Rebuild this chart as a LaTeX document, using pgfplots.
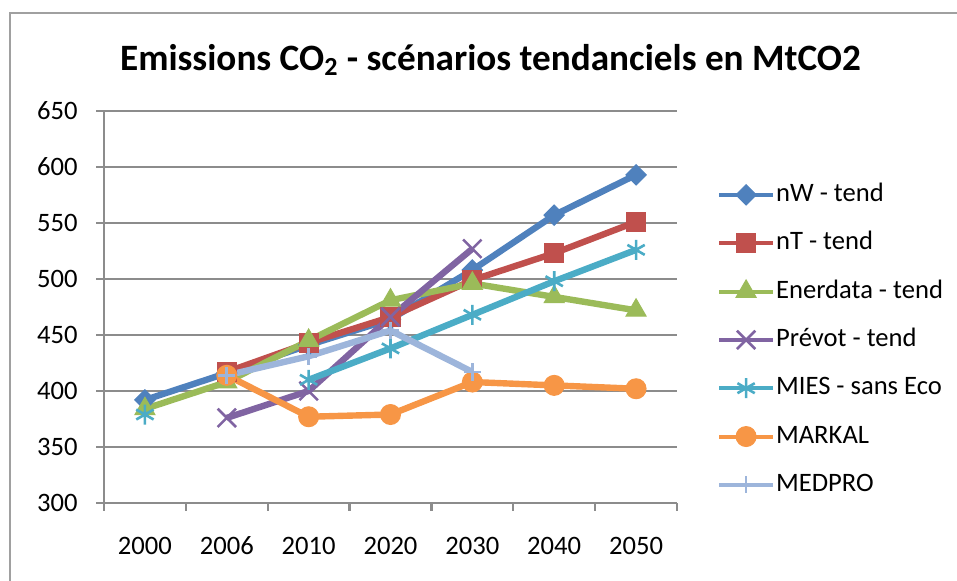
\documentclass[border=0pt]{standalone}
\usepackage{fontspec}
\setmainfont{Carlito}
\usepackage{pgfplots}
\pgfplotsset{compat=1.18}
\definecolor{c1}{HTML}{4F81BD}
\definecolor{c2}{HTML}{C0504D}
\definecolor{c3}{HTML}{9BBB59}
\definecolor{c4}{HTML}{8064A2}
\definecolor{c5}{HTML}{4BACC6}
\definecolor{c6}{HTML}{F79646}
\definecolor{c7}{HTML}{9DB5DB}
\definecolor{gridgray}{HTML}{8C8C8C}
\definecolor{bordergray}{HTML}{A0A0A0}
\begin{document}
\fontsize{13.3}{16}\selectfont
\begin{tikzpicture}
\useasboundingbox (0,0) rectangle (478.5pt,290.5pt);
\draw[line width=1pt, color=bordergray] (4.75pt,-2pt) -- (4.75pt,284pt) -- (482pt,284pt);
\node[anchor=base, inner sep=0pt, font=\fontsize{18.6}{22}\selectfont\bfseries] at (245.25pt,255.15pt) {Emissions CO\textsubscript{2} - scénarios tendanciels en MtCO2};
\begin{axis}[
  at={(52pt,39pt)}, anchor=south west,
  scale only axis, width=286.5pt, height=196pt,
  xmin=-0.5, xmax=6.5, ymin=300, ymax=650,
  axis x line=bottom, axis y line=left,
  axis line style={-, line width=1.1pt, color=gridgray},
  xtick={0,...,6},
  xticklabels={2000,2006,2010,2020,2030,2040,2050},
  minor xtick={-0.5,0.5,...,6.5},
  every major x tick/.append style={draw=none},
  ytick={300,350,...,650},
  ymajorgrids,
  major grid style={line width=1.1pt, color=gridgray},
  tick align=outside, major tick length=4pt, minor tick length=4pt,
  every tick/.append style={line width=1.1pt, color=gridgray},
  ticklabel style={font=\fontsize{13.3}{16}\selectfont, inner sep=0pt},
  /pgf/number format/assume math mode=true,
  xticklabel style={anchor=north, yshift=-13pt, text height=8.6pt, text depth=0pt},
  yticklabel style={anchor=east, xshift=-9pt},
  unbounded coords=jump,
  legend image code/.code={\draw[mark repeat=2,mark phase=2,#1, line width=2pt] plot coordinates {(0pt,0pt) (13.5pt,0pt) (27pt,0pt)};},
  legend cell align=left,
  legend style={draw=none, fill=none, at={(axis description cs:1.0693,0.8190)}, anchor=north west,
    inner sep=0pt, row sep=11.67pt, column sep=0.5pt,
    nodes={inner sep=0pt, text height=9.5pt, text depth=3pt, font=\fontsize{13.3}{16}\selectfont}},
]
\addplot[color=c1, line width=3.2pt, mark=square*, mark size=3.6pt, mark options={rotate=45, line width=0.5pt, fill=c1}]
  coordinates {(0,392) (1,416) (2,441) (3,464) (4,508) (5,557) (6,593)};
\addlegendentry{nW - tend}
\addplot[color=c2, line width=3.2pt, mark=square*, mark size=4.8pt, mark options={line width=0.5pt, fill=c2}]
  coordinates {(1,417) (2,443) (3,466) (4,499) (5,523) (6,551)};
\addlegendentry{nT - tend}
\addplot[color=c3, line width=3.2pt, mark=triangle*, mark size=5.8pt, mark options={line width=0.5pt, fill=c3}]
  coordinates {(0,384) (1,408) (2,445) (3,481) (4,496) (5,484) (6,472)};
\addlegendentry{Enerdata - tend}
\addplot[color=c4, line width=3.2pt, mark=x, mark size=6.5pt, mark options={line width=1.3pt}]
  coordinates {(1,376) (2,400) (3,466) (4,527)};
\addlegendentry{Prévot - tend}
\addplot[color=c5, line width=3.2pt, mark=asterisk, mark size=5pt, mark options={line width=1.3pt}]
  coordinates {(0,379) (1,nan) (2,410) (3,438) (4,468) (5,498) (6,526)};
\addlegendentry{MIES - sans Eco}
\addplot[color=c6, line width=3.2pt, mark=*, mark size=5pt, mark options={line width=0.5pt, fill=c6}]
  coordinates {(1,414) (2,377) (3,379) (4,408) (5,405) (6,402)};
\addlegendentry{MARKAL}
\addplot[color=c7, line width=3.2pt, mark=+, mark size=4.3pt, mark options={line width=1.3pt}]
  coordinates {(1,414) (2,431) (3,454) (4,417)};
\addlegendentry{MEDPRO}
\end{axis}
\end{tikzpicture}
\end{document}
